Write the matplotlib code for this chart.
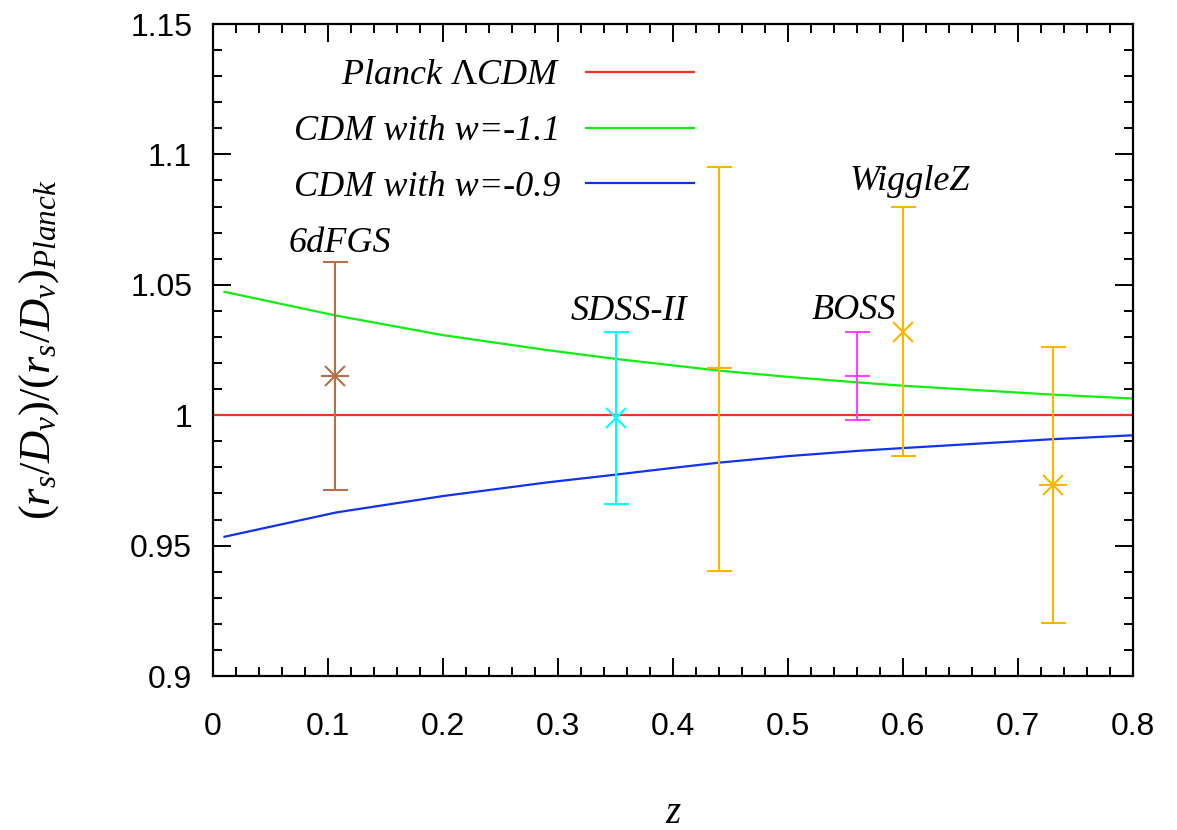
import numpy as np
import matplotlib
matplotlib.use('Agg')
import matplotlib.pyplot as plt
from matplotlib.ticker import MultipleLocator

plt.rcParams['mathtext.fontset'] = 'custom'
plt.rcParams['mathtext.rm'] = 'Liberation Serif'
plt.rcParams['mathtext.it'] = 'Liberation Serif:italic'
plt.rcParams['font.family'] = ['Liberation Sans', 'DejaVu Sans']

# model curves
z_curve = [0.01, 0.107, 0.2, 0.29, 0.35, 0.4, 0.44, 0.5, 0.56, 0.6, 0.73, 0.8]
w_m11 = [1.0473, 1.0382, 1.0307, 1.0250, 1.0216, 1.0191, 1.0171, 1.0147, 1.0126, 1.0113, 1.0079, 1.0064]
w_m09 = [0.9534, 0.9627, 0.9690, 0.9742, 0.9772, 0.9798, 0.9818, 0.9843, 0.9863, 0.9874, 0.9908, 0.9923]
z_planck = [0.0, 0.8]
planck = [1.0, 1.0]

# BAO measurements: z, value, lower end, upper end
surveys = ['6dFGS', 'SDSS-II', 'WiggleZ', 'BOSS', 'WiggleZ', 'WiggleZ']
z_obs = [0.106, 0.35, 0.44, 0.56, 0.60, 0.73]
val_obs = [1.015, 0.999, 1.018, 1.0151, 1.032, 0.9731]
lo_obs = [0.9712, 0.9661, 0.9402, 0.9981, 0.9842, 0.9202]
hi_obs = [1.0588, 1.032, 1.0951, 1.0318, 1.0798, 1.026]
markers = ['*', 'x', '+', '+', 'x', '*']
colors = ['#b5704a', '#00ffff', '#ffb400', '#ff44ff', '#ffb400', '#ffb400']

# survey name labels
lab_text = ['6dFGS', 'SDSS-II', 'BOSS', 'WiggleZ']
lab_z = [0.11, 0.362, 0.557, 0.606]
lab_y = [1.0625, 1.0365, 1.0370, 1.0865]

serif_it = dict(family='Liberation Serif', style='italic')

fig = plt.figure(figsize=(11.77, 8.30), dpi=100)
ax = fig.add_axes([213/1177, 1-676/830, 920/1177, 652/830])

ax.plot(z_planck, planck, color='#ee3322', lw=1.6, label=r'Planck $\Lambda$CDM')
ax.plot(z_curve, w_m11, color='#11ee11', lw=1.6, label='CDM with w=-1.1')
ax.plot(z_curve, w_m09, color='#1133ee', lw=1.6, label='CDM with w=-0.9')

for z, v, lo, hi, m, c in zip(z_obs, val_obs, lo_obs, hi_obs, markers, colors):
    ax.errorbar([z], [v], yerr=[[v-lo], [hi-v]], fmt='none', ecolor=c,
                elinewidth=1.5, capsize=9, capthick=1.5)
    if m == '*':
        ax.plot(z, v, marker='+', ms=20, mew=1.5, color=c, ls='none')
        ax.plot(z, v, marker='x', ms=14, mew=1.5, color=c, ls='none')
    elif m == '+':
        ax.plot(z, v, marker='_', ms=18, mew=1.5, color=c, ls='none')
    else:
        ax.plot(z, v, marker='x', ms=14, mew=1.5, color=c, ls='none')

for t, x, y in zip(lab_text, lab_z, lab_y):
    ax.text(x, y, t, ha='center', va='baseline', fontsize=26, **serif_it)

ax.set_xlim(0, 0.8)
ax.set_ylim(0.9, 1.15)
ax.xaxis.set_major_locator(MultipleLocator(0.1))
ax.xaxis.set_minor_locator(MultipleLocator(0.02))
ax.yaxis.set_major_locator(MultipleLocator(0.05))
ax.yaxis.set_minor_locator(MultipleLocator(0.01))
ax.set_xticks(np.arange(0, 0.81, 0.1))
ax.set_xticklabels(['0', '0.1', '0.2', '0.3', '0.4', '0.5', '0.6', '0.7', '0.8'])
ax.set_yticks([0.9, 0.95, 1.0, 1.05, 1.1, 1.15])
ax.set_yticklabels(['0.9', '0.95', '1', '1.05', '1.1', '1.15'])
ax.tick_params(which='both', direction='in', top=True, right=True, width=1.4)
ax.tick_params(which='major', length=13, labelsize=23)
ax.tick_params(which='major', axis='x', pad=26)
ax.tick_params(which='major', axis='y', pad=15)
ax.tick_params(which='minor', length=6.5)
for s in ax.spines.values():
    s.set_linewidth(1.6)

ax.set_xlabel('z', fontsize=28, labelpad=38, **serif_it)
ax.set_ylabel(r'$(r_s/D_v)/(r_s/D_v)_{Planck}$', fontsize=32, labelpad=50)

leg = ax.legend(loc='upper right', bbox_to_anchor=(0.523, 0.946), frameon=False,
                markerfirst=False, handlelength=3.0, handletextpad=0.7,
                labelspacing=0.62, borderpad=0, borderaxespad=0,
                prop=dict(family='Liberation Serif', style='italic', size=26))

fig.savefig('out.png', dpi=100)
